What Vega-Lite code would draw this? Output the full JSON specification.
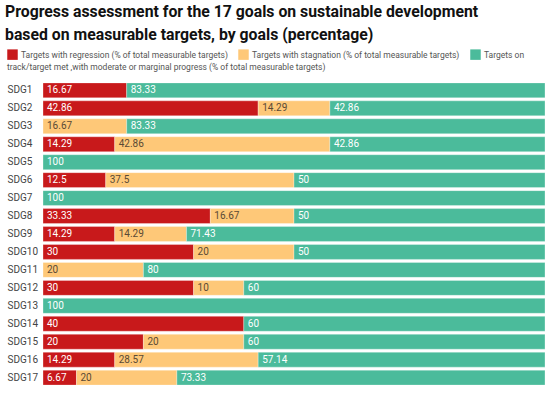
{
  "$schema": "https://vega.github.io/schema/vega-lite/v6.json",
  "width": 502,
  "height": 304,
  "autosize": {"type": "none"},
  "padding": {"left": 43, "top": 82, "right": 5, "bottom": 7},
  "background": "white",
  "config": {
    "font": "Roboto",
    "view": {"stroke": null}
  },
  "title": {
    "text": ["Progress assessment for the 17 goals on sustainable development", "based on measurable targets, by goals (percentage)"],
    "anchor": "start",
    "dx": -2,
    "fontSize": 15.8,
    "fontWeight": "bold",
    "lineHeight": 23,
    "color": "#111",
    "font": "Roboto",
    "offset": 5
  },
  "data": {
    "values": [
      {"goal": "SDG1", "cat": "Targets with regression (% of total measurable targets)", "order": 1, "value": 16.67},
      {"goal": "SDG1", "cat": "Targets on", "order": 3, "value": 83.33},
      {"goal": "SDG2", "cat": "Targets with regression (% of total measurable targets)", "order": 1, "value": 42.86},
      {"goal": "SDG2", "cat": "Targets with stagnation (% of total measurable targets)", "order": 2, "value": 14.29},
      {"goal": "SDG2", "cat": "Targets on", "order": 3, "value": 42.86},
      {"goal": "SDG3", "cat": "Targets with stagnation (% of total measurable targets)", "order": 2, "value": 16.67},
      {"goal": "SDG3", "cat": "Targets on", "order": 3, "value": 83.33},
      {"goal": "SDG4", "cat": "Targets with regression (% of total measurable targets)", "order": 1, "value": 14.29},
      {"goal": "SDG4", "cat": "Targets with stagnation (% of total measurable targets)", "order": 2, "value": 42.86},
      {"goal": "SDG4", "cat": "Targets on", "order": 3, "value": 42.86},
      {"goal": "SDG5", "cat": "Targets on", "order": 3, "value": 100},
      {"goal": "SDG6", "cat": "Targets with regression (% of total measurable targets)", "order": 1, "value": 12.5},
      {"goal": "SDG6", "cat": "Targets with stagnation (% of total measurable targets)", "order": 2, "value": 37.5},
      {"goal": "SDG6", "cat": "Targets on", "order": 3, "value": 50},
      {"goal": "SDG7", "cat": "Targets on", "order": 3, "value": 100},
      {"goal": "SDG8", "cat": "Targets with regression (% of total measurable targets)", "order": 1, "value": 33.33},
      {"goal": "SDG8", "cat": "Targets with stagnation (% of total measurable targets)", "order": 2, "value": 16.67},
      {"goal": "SDG8", "cat": "Targets on", "order": 3, "value": 50},
      {"goal": "SDG9", "cat": "Targets with regression (% of total measurable targets)", "order": 1, "value": 14.29},
      {"goal": "SDG9", "cat": "Targets with stagnation (% of total measurable targets)", "order": 2, "value": 14.29},
      {"goal": "SDG9", "cat": "Targets on", "order": 3, "value": 71.43},
      {"goal": "SDG10", "cat": "Targets with regression (% of total measurable targets)", "order": 1, "value": 30},
      {"goal": "SDG10", "cat": "Targets with stagnation (% of total measurable targets)", "order": 2, "value": 20},
      {"goal": "SDG10", "cat": "Targets on", "order": 3, "value": 50},
      {"goal": "SDG11", "cat": "Targets with stagnation (% of total measurable targets)", "order": 2, "value": 20},
      {"goal": "SDG11", "cat": "Targets on", "order": 3, "value": 80},
      {"goal": "SDG12", "cat": "Targets with regression (% of total measurable targets)", "order": 1, "value": 30},
      {"goal": "SDG12", "cat": "Targets with stagnation (% of total measurable targets)", "order": 2, "value": 10},
      {"goal": "SDG12", "cat": "Targets on", "order": 3, "value": 60},
      {"goal": "SDG13", "cat": "Targets on", "order": 3, "value": 100},
      {"goal": "SDG14", "cat": "Targets with regression (% of total measurable targets)", "order": 1, "value": 40},
      {"goal": "SDG14", "cat": "Targets on", "order": 3, "value": 60},
      {"goal": "SDG15", "cat": "Targets with regression (% of total measurable targets)", "order": 1, "value": 20},
      {"goal": "SDG15", "cat": "Targets with stagnation (% of total measurable targets)", "order": 2, "value": 20},
      {"goal": "SDG15", "cat": "Targets on", "order": 3, "value": 60},
      {"goal": "SDG16", "cat": "Targets with regression (% of total measurable targets)", "order": 1, "value": 14.29},
      {"goal": "SDG16", "cat": "Targets with stagnation (% of total measurable targets)", "order": 2, "value": 28.57},
      {"goal": "SDG16", "cat": "Targets on", "order": 3, "value": 57.14},
      {"goal": "SDG17", "cat": "Targets with regression (% of total measurable targets)", "order": 1, "value": 6.67},
      {"goal": "SDG17", "cat": "Targets with stagnation (% of total measurable targets)", "order": 2, "value": 20},
      {"goal": "SDG17", "cat": "Targets on", "order": 3, "value": 73.33}
    ]
  },
  "transform": [
    {"stack": "value", "groupby": ["goal"], "sort": [{"field": "order"}], "as": ["x0", "x1"]}
  ],
  "encoding": {
    "y": {
      "field": "goal",
      "type": "nominal",
      "sort": null,
      "scale": {"paddingInner": 0.17, "paddingOuter": 0.05},
      "axis": {
        "title": null,
        "domain": false,
        "ticks": false,
        "labelAlign": "left",
        "labelPadding": 36,
        "labelFontSize": 10,
        "labelColor": "#444",
        "labelFont": "Roboto"
      }
    }
  },
  "layer": [
    {
      "mark": {"type": "bar", "stroke": "white", "strokeWidth": 0.5, "strokeOpacity": 0.6},
      "encoding": {
        "x": {"field": "x0", "type": "quantitative", "scale": {"domain": [0, 100], "clamp": true, "nice": false}, "axis": null},
        "x2": {"field": "x1"},
        "color": {
          "field": "cat",
          "type": "nominal",
          "scale": {
            "domain": ["Targets with regression (% of total measurable targets)", "Targets with stagnation (% of total measurable targets)", "Targets on"],
            "range": ["#c8191b", "#fec878", "#4bbb9b"]
          },
          "legend": {
            "orient": "none",
            "legendX": -36,
            "legendY": -33,
            "direction": "horizontal",
            "title": "track/target met ,with moderate or marginal progress (% of total measurable targets)",
            "titleOrient": "bottom",
            "titleAnchor": "start",
            "titleFontWeight": "normal",
            "titleFontSize": 8.5,
            "titleColor": "#555",
            "titleFont": "Roboto",
            "titlePadding": 3,
            "titleLimit": 600,
            "symbolType": "square",
            "symbolSize": 110,
            "symbolStrokeWidth": 0,
            "symbolOpacity": 1,
            "labelFontSize": 8.5,
            "labelColor": "#555",
            "labelFont": "Roboto",
            "labelLimit": 400,
            "labelOffset": 3,
            "labelExpr": "indexof(datum.label, 'stagnation') >= 0 ? datum.label + '\u2007\u2007\u2007\u2007\u2007' : datum.label",
            "columnPadding": 10
          }
        }
      }
    },
    {
      "mark": {"type": "text", "align": "left", "baseline": "middle", "dx": 4, "fontSize": 10, "font": "Roboto"},
      "encoding": {
        "x": {"field": "x0", "type": "quantitative"},
        "text": {"field": "value", "type": "quantitative", "format": "~g"},
        "color": {
          "condition": {"test": "datum.order === 2", "value": "#5a4a35"},
          "value": "white"
        }
      }
    }
  ]
}
